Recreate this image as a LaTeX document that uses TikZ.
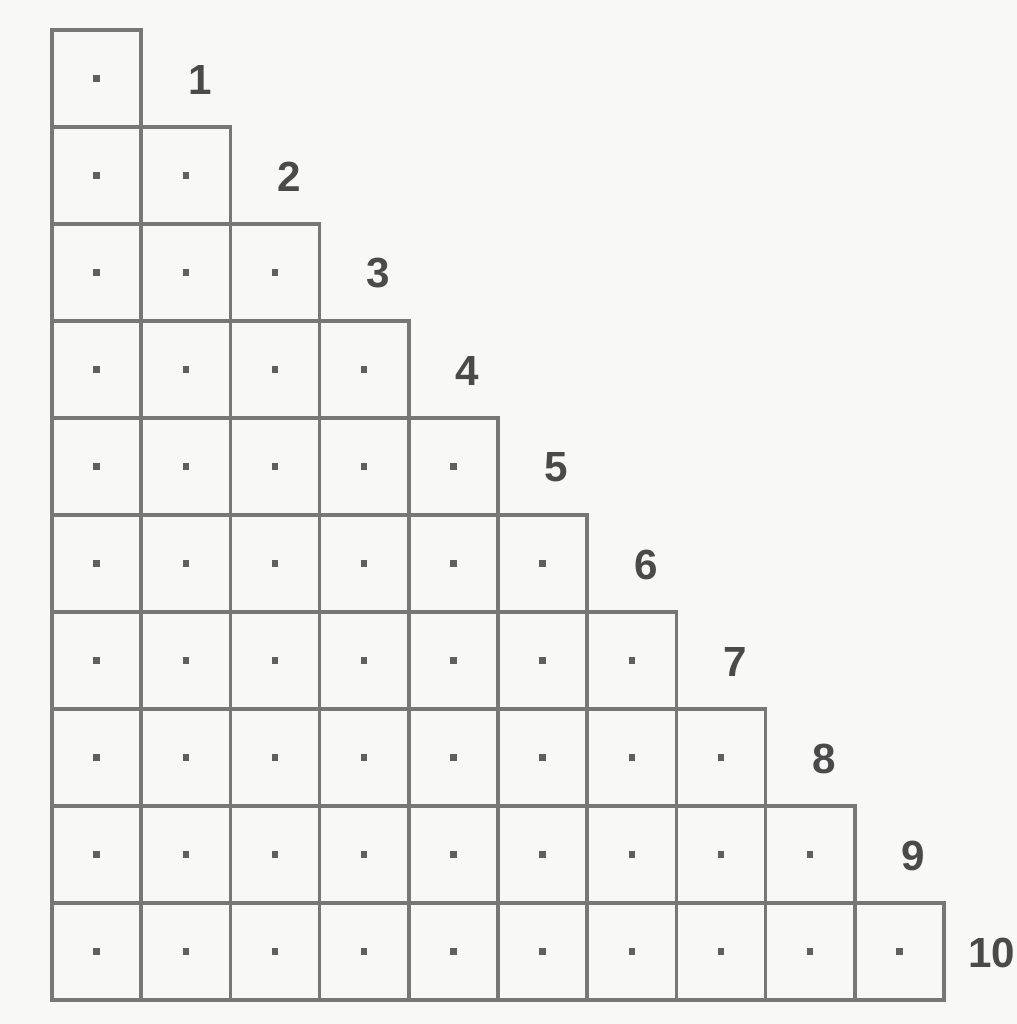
\documentclass[tikz,border=0pt]{standalone}
\usepackage{fontspec}
\setmainfont{Liberation Sans}
\definecolor{gridgray}{HTML}{777777}
\definecolor{labgray}{HTML}{4A4A4A}
\definecolor{paper}{HTML}{F8F8F7}
\begin{document}
\begin{tikzpicture}[x=0.02cm,y=-0.02cm,
  cell/.style={draw=gridgray,line width=2pt,minimum width=1.784cm,minimum height=1.94cm,inner sep=0pt,outer sep=0pt},
  dotmark/.style={fill=gridgray!80!black,minimum size=0.13cm,inner sep=0pt},
  lab/.style={text=labgray,font=\fontsize{24}{28}\selectfont\bfseries,inner sep=0pt}]
\fill[paper] (0,0) rectangle (1017,1024);
\useasboundingbox (0,0) rectangle (1017,1024);
\foreach \r in {1,...,10}{
  \foreach \c in {1,...,\r}{
    \node[cell] (c-\r-\c) at ({52+89.2*(\c-0.5)},{30+97*(\r-0.5)}) {};
    \node[dotmark] (d-\r-\c) at (c-\r-\c.center) {};
  }
}
\foreach \r in {1,...,9}{
  \node[lab] (l-\r) at ({52+89.2*(\r+0.5)+14},{30+97*(\r-0.5)+1}) {\r};
}
\node[lab,anchor=west] (l-10) at (968,{30+97*9.5+1}) {10};
\end{tikzpicture}
\end{document}
